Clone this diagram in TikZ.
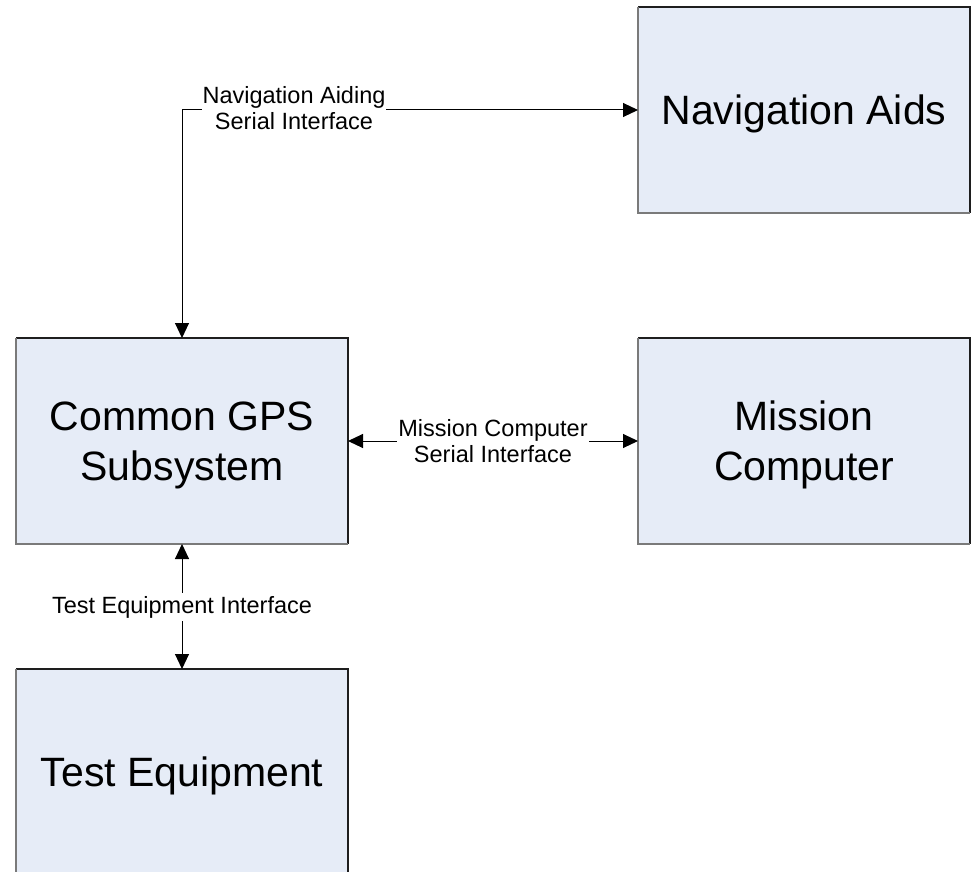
\documentclass[tikz,border=0pt]{standalone}
\usepackage{fontspec}
\setmainfont{Liberation Sans}
\usetikzlibrary{arrows.meta}
\definecolor{boxfill}{HTML}{E6ECF7}
\definecolor{edgelight}{HTML}{7A7A7A}
\definecolor{edgedark}{HTML}{1E1E1E}
\tikzset{
  unitbox/.style={rectangle, fill=boxfill, outer sep=0pt, inner sep=0pt,
    minimum width=332pt, minimum height=206pt},
  unittext/.style={align=center, inner sep=0pt, yshift=-4pt,
    font=\fontsize{41}{50}\selectfont},
  link/.style={line width=1pt, color=black,
    {Triangle[length=15pt,width=14pt]}-{Triangle[length=15pt,width=14pt]}},
  linklabel/.style={fill=white, align=center, inner xsep=1pt, inner ysep=3pt,
    font=\fontsize{23.5}{26}\selectfont}
}
\begin{document}
\begin{tikzpicture}[x=1pt,y=-1pt]
\useasboundingbox (0,0) rectangle (971,872);
\clip (0,0) rectangle (971,872);
\fill[white] (0,0) rectangle (971,872);

% system blocks
\node[unitbox] (nav) at (804,110) {};
\node[unitbox] (gps) at (182,441) {};
\node[unitbox] (mc)  at (804,441) {};
\node[unitbox] (te)  at (182,772) {};

% two-tone block outlines
\foreach \b in {nav,gps,mc,te}{
  \draw[edgedark, line width=1.2pt] (\b.north west) -- (\b.north east) -- (\b.south east);
  \draw[edgelight, line width=2pt] (\b.north west) -- (\b.south west) -- (\b.south east);
}

% block titles
\node[unittext] (navtext) at (nav.center) {Navigation Aids};
\node[unittext] (gpstext) at (gps.center) {Common GPS\\Subsystem};
\node[unittext] (mctext)  at (mc.center)  {Mission\\Computer};
\node[unittext] (tetext)  at (te.center)  {Test Equipment};

% interfaces
\draw[link] (nav.west) -| (gps.north);
\draw[link] (gps.east) -- (mc.west);
\draw[link] (gps.south) -- (te.north);

\node[linklabel] (navlbl) at (294,108) {Navigation Aiding\\Serial Interface};
\node[linklabel] (mclbl)  at (493,441) {Mission Computer\\Serial Interface};
\node[linklabel] (telbl)  at (182,607) {Test Equipment Interface};
\end{tikzpicture}
\end{document}
